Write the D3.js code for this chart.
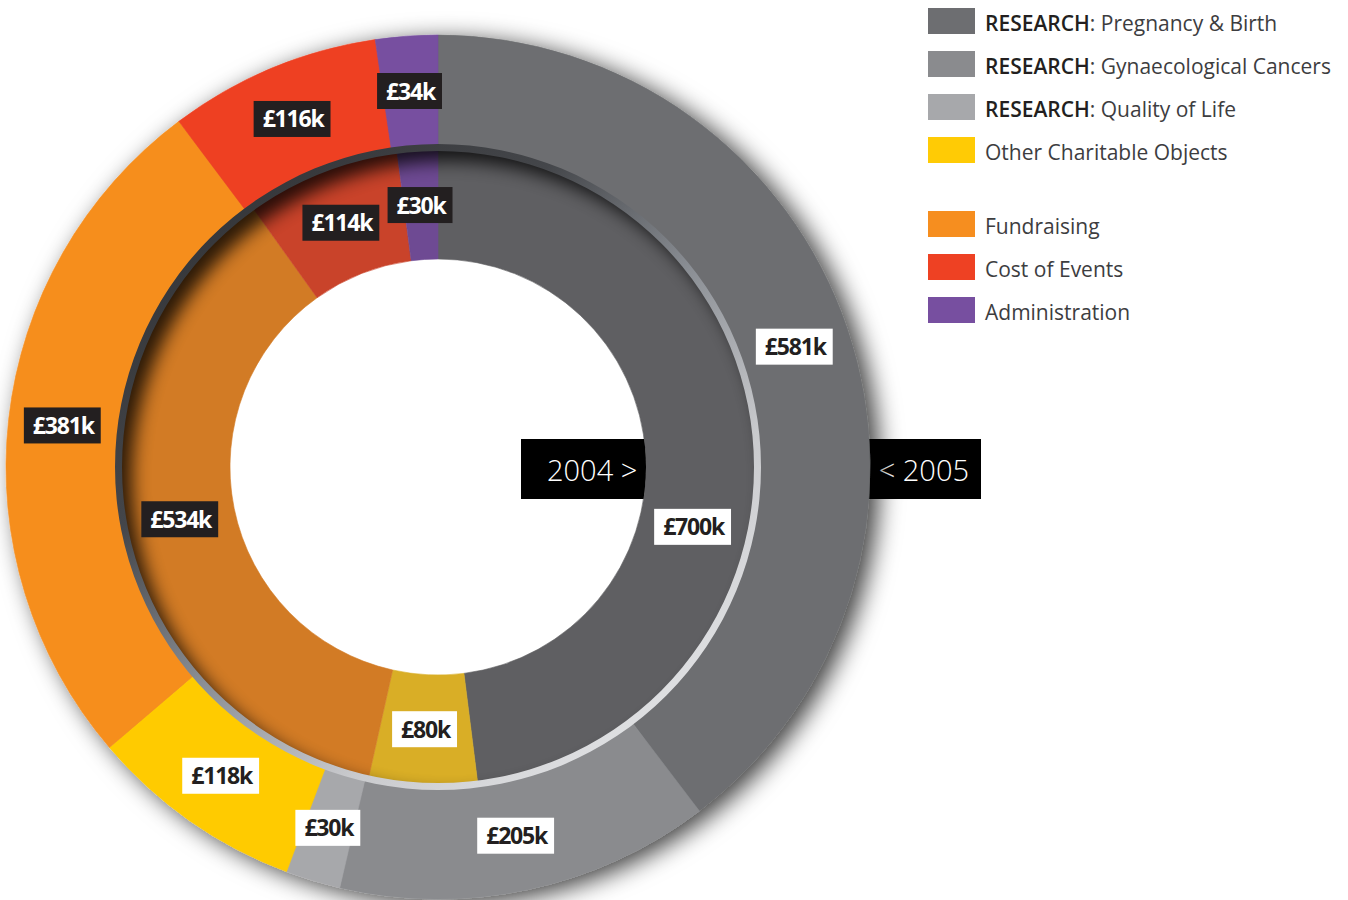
<!DOCTYPE html>
<html>
<head>
<meta charset="utf-8">
<script src="https://cdn.jsdelivr.net/npm/d3@7"></script>
<style>
  body { margin: 0; background: #fff; }
  svg { display: block; font-family: "Open Sans", sans-serif; }
</style>
</head>
<body>
<div class="chartContainer"></div>
<script>
// data (thousands of pounds)
const categories = ["RESEARCH: Pregnancy & Birth", "RESEARCH: Gynaecological Cancers", "RESEARCH: Quality of Life",
	"Other Charitable Objects", "Fundraising", "Cost of Events", "Administration"];
const groups = ["charity", "charity", "charity", "charity", "costs", "costs", "costs"];
const values2005 = [581, 205, 30, 118, 381, 116, 34];
const values2004 = [700, 0, 0, 80, 534, 114, 30];
const yearTags = ["2004 >", "< 2005"];

// colours
const outerColors = ["#6d6e71", "#8a8b8e", "#a7a8ab", "#ffcb05", "#f68e1f", "#ee4123", "#774fa0"];
const innerColors = ["#5f5f62", "#7a7b7e", "#949598", "#d9ae26", "#d27b25", "#c9432a", "#6e4a93"];

// sizes
const w = 1348;
const h = 900;
const cx = 438;
const cy = 467;
const rOut = [322, 432];
const rIn = [208, 317];
const rBevel = [316, 323];

const svg = d3.select(".chartContainer").append("svg")
	.attr("width", w)
	.attr("height", h);

const defs = svg.append("defs");

// soft drop shadow under outer ring
const drop = defs.append("filter").attr("id", "drop")
	.attr("x", "-20%").attr("y", "-20%").attr("width", "140%").attr("height", "140%");
drop.append("feDropShadow")
	.attr("dx", 9).attr("dy", 5).attr("stdDeviation", 12)
	.attr("flood-color", "#000").attr("flood-opacity", 0.75);

const blur = defs.append("filter").attr("id", "blur")
	.attr("x", "-20%").attr("y", "-20%").attr("width", "140%").attr("height", "140%");
blur.append("feGaussianBlur").attr("stdDeviation", 9);

// bevel gradient, dark top-left to light bottom-right
const grad = defs.append("linearGradient").attr("id", "bevel")
	.attr("x1", 0).attr("y1", 0).attr("x2", 0.85).attr("y2", 1);
[[0, "#2c2d30"], [0.35, "#44464a"], [0.55, "#8a8e94"], [0.75, "#c9cacd"], [1, "#e8e9eb"]]
	.forEach(s => grad.append("stop").attr("offset", s[0]).attr("stop-color", s[1]));

const arcOuter = d3.arc().innerRadius(rOut[0]).outerRadius(rOut[1]);
const arcInner = d3.arc().innerRadius(rIn[0]).outerRadius(rIn[1]);

defs.append("clipPath").attr("id", "innerClip")
	.append("path")
	.attr("transform", `translate(${cx},${cy})`)
	.attr("d", d3.arc().innerRadius(rIn[0]).outerRadius(rIn[1]).startAngle(0).endAngle(2 * Math.PI)());

defs.append("clipPath").attr("id", "holeClip")
	.append("circle").attr("cx", cx).attr("cy", cy).attr("r", rIn[0]);

const pie = d3.pie().sort(null).value(d => d.value);
const rows = vals => categories.map((c, i) => ({ cat: c, value: vals[i], i: i }));
const outerArcs = pie(rows(values2005));
const innerArcs = pie(rows(values2004));

// 2005 tag sits behind the outer ring
const tagH = 60;
const tagY = cy - 28;
svg.append("rect")
	.attr("x", cx + rOut[1] - 40).attr("y", tagY)
	.attr("width", 981 - (cx + rOut[1] - 40)).attr("height", tagH)
	.attr("fill", "#000");
svg.append("text")
	.attr("x", 969).attr("y", tagY + 42)
	.attr("text-anchor", "end")
	.attr("fill", "#fff")
	.attr("font-size", 29).attr("font-weight", 300)
	.text(yearTags[1]);

// outer ring (2005)
svg.append("g")
	.attr("transform", `translate(${cx},${cy})`)
	.attr("filter", "url(#drop)")
	.selectAll("path")
	.data(outerArcs)
	.enter()
	.append("path")
	.attr("d", arcOuter)
	.attr("fill", d => outerColors[d.data.i])
	.attr("stroke", d => outerColors[d.data.i])
	.attr("stroke-width", 0.6);

// inner ring (2004)
svg.append("g")
	.attr("transform", `translate(${cx},${cy})`)
	.selectAll("path")
	.data(innerArcs.filter(d => d.value > 0))
	.enter()
	.append("path")
	.attr("d", arcInner)
	.attr("fill", d => innerColors[d.data.i])
	.attr("stroke", d => innerColors[d.data.i])
	.attr("stroke-width", 0.6);

// inset shadow along top-left of inner ring
svg.append("g")
	.attr("clip-path", "url(#innerClip)")
	.append("path")
	.attr("transform", `translate(${cx + 11},${cy + 11})`)
	.attr("d", d3.arc().innerRadius(rIn[1]).outerRadius(rIn[1] + 60).startAngle(0).endAngle(2 * Math.PI)())
	.attr("fill", "#000")
	.attr("opacity", 0.8)
	.attr("filter", "url(#blur)");

// bevel between the rings
svg.append("path")
	.attr("transform", `translate(${cx},${cy})`)
	.attr("d", d3.arc().innerRadius(rBevel[0]).outerRadius(rBevel[1]).startAngle(0).endAngle(2 * Math.PI)())
	.attr("fill", "url(#bevel)");

// 2004 tag, only seen inside the hole
const tag04 = svg.append("g").attr("clip-path", "url(#holeClip)");
tag04.append("rect")
	.attr("x", 521).attr("y", tagY)
	.attr("width", 200).attr("height", tagH)
	.attr("fill", "#000");
svg.append("text")
	.attr("x", 547).attr("y", tagY + 42)
	.attr("fill", "#fff")
	.attr("font-size", 29).attr("font-weight", 300)
	.text(yearTags[0]);

// value labels
function addLabels(arcs, radius, avoidTag) {
	arcs.filter(d => d.value > 0).forEach(d => {
		let a = (d.startAngle + d.endAngle) / 2;
		// keep clear of the year tag on the right
		if (avoidTag && Math.abs(a - Math.PI / 2) < 0.22) a = Math.PI / 2 + 0.23;
		const x = cx + radius * Math.sin(a);
		const y = cy - radius * Math.cos(a);
		const dark = groups[d.data.i] === "costs";
		const g = svg.append("g").attr("transform", `translate(${x},${y})`);
		const box = g.append("rect").attr("fill", dark ? "#231f20" : "#fff");
		const t = g.append("text")
			.attr("text-anchor", "middle")
			.attr("y", 8.5)
			.attr("font-size", 23)
			.attr("font-weight", 700)
			.attr("letter-spacing", -1.2)
			.attr("fill", dark ? "#fff" : "#231f20")
			.text("£" + d.value + "k");
		const len = t.node().getComputedTextLength();
		box.attr("x", -len / 2 - 9).attr("y", -18)
			.attr("width", len + 16).attr("height", 36);
	});
}
addLabels(outerArcs, (rOut[0] + rOut[1]) / 2, false);
addLabels(innerArcs, (rIn[0] + rIn[1]) / 2, true);

// legend
const legend = svg.append("g").attr("transform", "translate(928,8)");
let ly = 0;
categories.forEach((c, i) => {
	if (i > 0 && groups[i] !== groups[i - 1]) ly += 31;
	const row = legend.append("g").attr("transform", `translate(0,${ly})`);
	row.append("rect")
		.attr("width", 47).attr("height", 26)
		.attr("fill", outerColors[i]);
	const txt = row.append("text")
		.attr("x", 57).attr("y", 23)
		.attr("font-size", 21)
		.attr("fill", "#3d3d3f");
	const parts = c.split(": ");
	if (parts.length > 1) {
		txt.append("tspan").attr("font-weight", 600).attr("fill", "#231f20").text(parts[0]);
		txt.append("tspan").text(": " + parts[1]);
	} else {
		txt.text(c);
	}
	ly += 43;
});
</script>
</body>
</html>
